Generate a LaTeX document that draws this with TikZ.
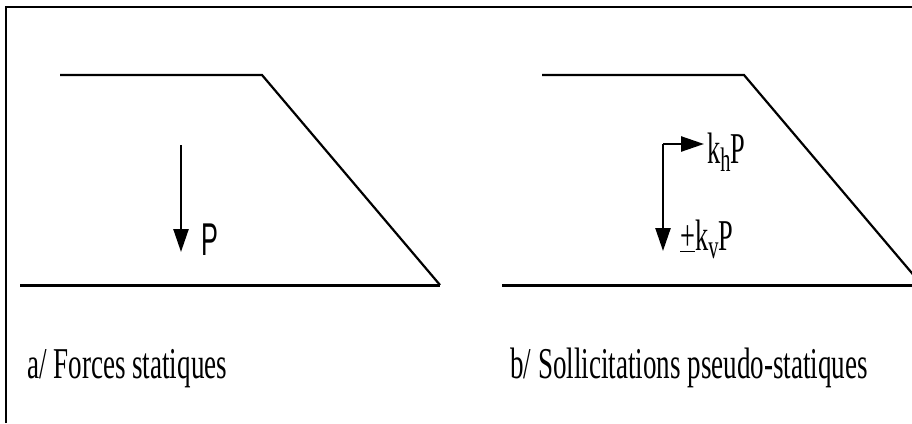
\documentclass[tikz,border=0pt]{standalone}
\usepackage{fontspec}
\usepackage{graphicx}
\setmainfont{Liberation Serif}
\newfontfamily\psans{Liberation Sans}
\usetikzlibrary{arrows.meta}
\newcommand{\narrow}[2][0.6]{\scalebox{#1}[1]{#2}}
\newcommand{\lowsub}[1]{\raisebox{-8pt}{\fontsize{34}{36}\selectfont #1}}
\begin{document}
\begin{tikzpicture}[x=1pt,y=-1pt,
  ground/.style={line width=3pt},
  edge/.style={line width=2.2pt},
  force/.style={line width=2.5pt,-{Triangle[length=23pt,width=15pt]}},
  lbl/.style={inner sep=0pt,anchor=base west,font=\fontsize{44}{46}\selectfont}]
\useasboundingbox (0,0) rectangle (912,423);
% frame
\draw[line width=2.2pt] (6,423) -- (6,7) -- (912,7);
% left panel
\draw[edge] (60,75) -- (262,75) -- (440,285);
\draw[ground] (20,285) -- (440,285);
\coordinate (pa) at (181,145);
\coordinate (pb) at (181,252);
\draw[force] (pa) -- (pb);
\node[lbl,font=\fontsize{46}{48}\psans] (P) at (201,255) {\narrow[0.55]{P}};
\node[lbl] (capa) at (27,378) {\narrow[0.615]{a/ Forces statiques}};
% right panel
\draw[edge] (542,75) -- (744,75) -- (922,285);
\draw[ground] (502,285) -- (912,285);
\coordinate (c) at (663,144);
\coordinate (h) at (704,144);
\coordinate (v) at (663,251);
\draw[force] (c) -- (h);
\draw[force] (c) -- (v);
\node[lbl] (kh) at (707,163) {\narrow{k\lowsub{h}P}};
\node[lbl] (kv) at (680,250) {\narrow{\underline{+}k\lowsub{v}P}};
\node[lbl] (capb) at (510,378) {\narrow[0.615]{b/ Sollicitations pseudo-statiques}};
\end{tikzpicture}
\end{document}
